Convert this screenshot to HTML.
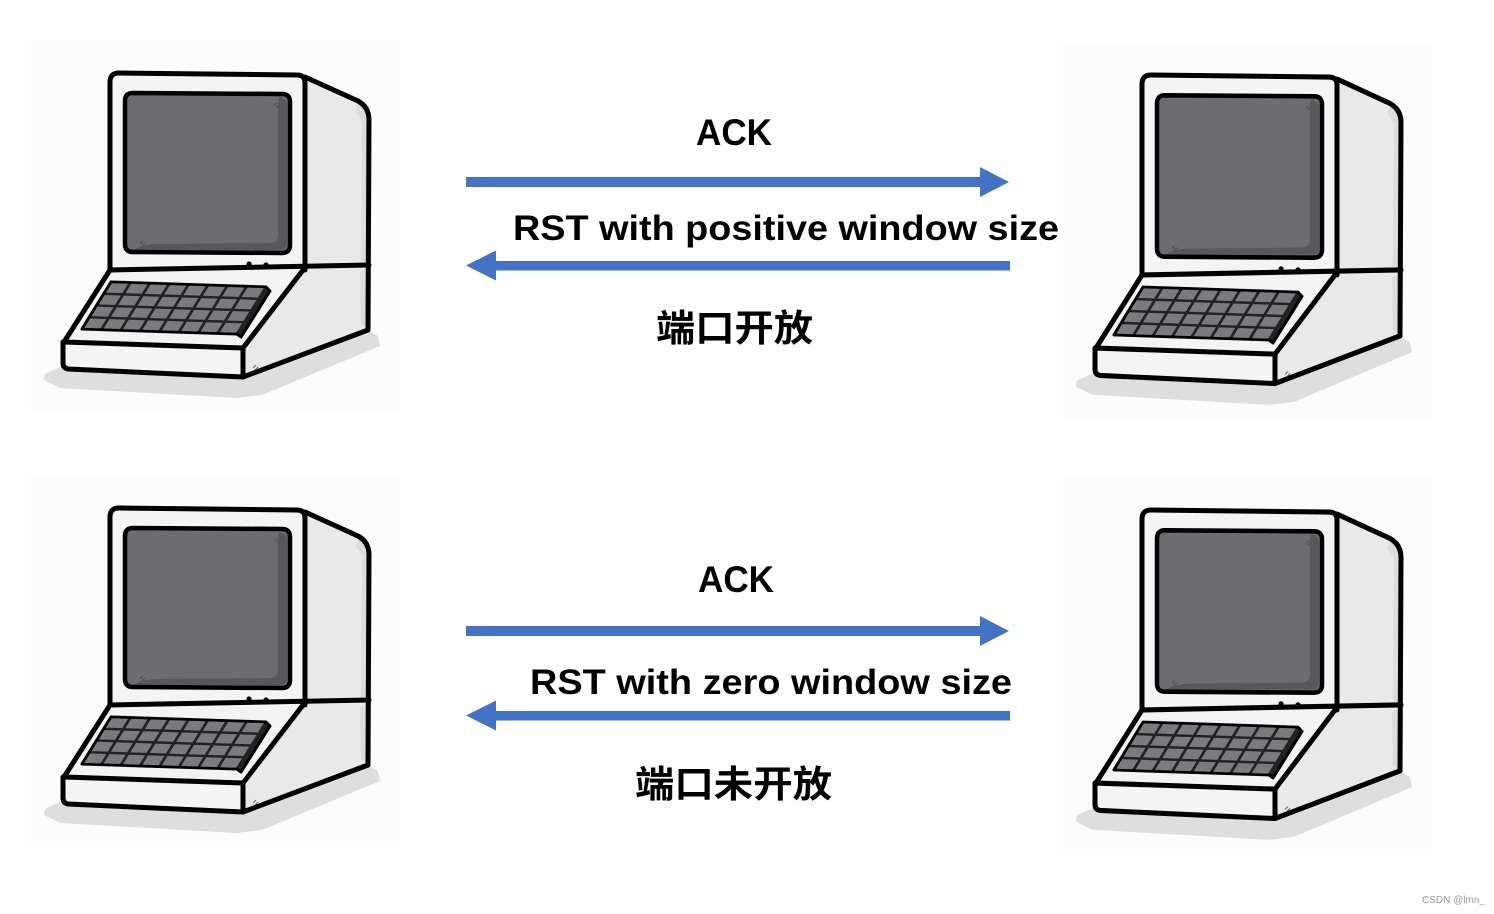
<!DOCTYPE html>
<html>
<head>
<meta charset="utf-8">
<style>
  html,body{margin:0;padding:0;background:#fff;}
  body{width:1494px;height:914px;overflow:hidden;}
  svg{display:block;}
  .lat{font-family:"Liberation Sans","Noto Sans CJK SC",sans-serif;font-weight:700;fill:#000;}
  .cjk{font-family:"Liberation Sans","Noto Sans CJK SC","WenQuanYi Zen Hei",sans-serif;font-weight:700;fill:#000;}
</style>
</head>
<body>
<svg width="1494" height="914" viewBox="0 0 1494 914" xmlns="http://www.w3.org/2000/svg">
  <defs>
    <g id="pc">
      <!-- faint image background -->
      <rect x="30" y="40" width="370" height="372" fill="#fcfcfc"/>
      <!-- shadow -->
      <polygon points="45,374 62,366 243,376 366,330 378,336 380,346 262,395 236,398 60,388 44,380" fill="#dedede"/>
      <!-- side panel -->
      <path d="M303,75 L358,102 Q369,108 369,120 L368,331 L243,377 L243,348 L302,270 L305,270 Z" fill="#e9e9e9"/>
      <path d="M355,112 Q362,116 362,126 L361,262 L368,262 L368,120 Q368,110 358,104 Z" fill="#dcdcdc"/>
      <path d="M360,272 L361,325 L368,328 L368,268 Z" fill="#dcdcdc"/>
      <!-- monitor front -->
      <path d="M110,270 L110,82 Q110,73 119,73 L297,75 Q305,75 305,83 L305,270 Z" fill="#f4f4f4"/>
      <!-- keyboard deck -->
      <polygon points="110,270 302,270 243,348 63,342" fill="#f3f3f3"/>
      <!-- base front -->
      <path d="M64,342 L243,348 L243,377 L68,369 Q63,368 63,363 Z" fill="#f4f4f4"/>

      <!-- outlines -->
      <g fill="none" stroke="#000" stroke-width="5" stroke-linecap="round" stroke-linejoin="round">
        <path d="M110,270 L110,82 Q110,73 119,73 L297,75 Q305,75 305,83 L305,270"/>
        <path d="M305,77 L358,101 Q369,107 369,120 L368,330 L243,377"/>
        <path d="M110,270 L369,265"/>
        <path d="M110,270 L64,342"/>
        <path d="M303,270 L243,348"/>
        <path d="M64,342 L243,348 L243,377 L68,369 Q63,368 63,363 L63,342"/>
      </g>

      <!-- screen -->
      <path d="M133,93 L282,94 Q290,94 290,102 L290,245 Q290,253 282,253 L133,252 Q125,252 125,244 L125,101 Q125,93 133,93 Z" fill="#6d6d71"/>
      <path d="M279,97 Q287,98 287,106 L287,243 Q287,250 280,250 L134,250 Q142,244 160,244 L270,243 Q278,243 278,235 L278,108 Q278,100 279,97 Z" fill="#58585c"/>
      <path d="M133,93 L282,94 Q290,94 290,102 L290,245 Q290,253 282,253 L133,252 Q125,252 125,244 L125,101 Q125,93 133,93 Z" fill="none" stroke="#000" stroke-width="4.5"/>
      <g stroke="#444" stroke-width="0.8">
        <line x1="274" y1="106" x2="277" y2="103"/><line x1="276" y1="108" x2="279" y2="105"/>
        <line x1="140" y1="244" x2="143" y2="241"/><line x1="142" y1="246" x2="145" y2="243"/>
        <line x1="253" y1="368" x2="256" y2="365"/><line x1="255" y1="370" x2="258" y2="367"/>
      </g>
      <!-- dots -->
      <circle cx="249" cy="264" r="2.6" fill="#000"/>
      <circle cx="266" cy="265" r="2.6" fill="#000"/>

      <!-- keyboard -->
      <polygon points="111,282 266,287 270,291 241,337 237,334 82,329" fill="#222" stroke="#000" stroke-width="3" stroke-linejoin="round"/>
      <g transform="matrix(19.375,0.625,-7.25,11.75,111,282)" fill="#7b7b7f">
        <rect x="0.08" y="0.1" width="0.84" height="0.8"/><rect x="1.08" y="0.1" width="0.84" height="0.8"/><rect x="2.08" y="0.1" width="0.84" height="0.8"/><rect x="3.08" y="0.1" width="0.84" height="0.8"/><rect x="4.08" y="0.1" width="0.84" height="0.8"/><rect x="5.08" y="0.1" width="0.84" height="0.8"/><rect x="6.08" y="0.1" width="0.84" height="0.8"/><rect x="7.08" y="0.1" width="0.84" height="0.8"/>
        <rect x="0.08" y="1.1" width="0.84" height="0.8"/><rect x="1.08" y="1.1" width="0.84" height="0.8"/><rect x="2.08" y="1.1" width="0.84" height="0.8"/><rect x="3.08" y="1.1" width="0.84" height="0.8"/><rect x="4.08" y="1.1" width="0.84" height="0.8"/><rect x="5.08" y="1.1" width="0.84" height="0.8"/><rect x="6.08" y="1.1" width="0.84" height="0.8"/><rect x="7.08" y="1.1" width="0.84" height="0.8"/>
        <rect x="0.08" y="2.1" width="0.84" height="0.8"/><rect x="1.08" y="2.1" width="0.84" height="0.8"/><rect x="2.08" y="2.1" width="0.84" height="0.8"/><rect x="3.08" y="2.1" width="0.84" height="0.8"/><rect x="4.08" y="2.1" width="0.84" height="0.8"/><rect x="5.08" y="2.1" width="0.84" height="0.8"/><rect x="6.08" y="2.1" width="0.84" height="0.8"/><rect x="7.08" y="2.1" width="0.84" height="0.8"/>
        <rect x="0.08" y="3.1" width="0.84" height="0.8"/><rect x="1.08" y="3.1" width="0.84" height="0.8"/><rect x="2.08" y="3.1" width="0.84" height="0.8"/><rect x="3.08" y="3.1" width="0.84" height="0.8"/><rect x="4.08" y="3.1" width="0.84" height="0.8"/><rect x="5.08" y="3.1" width="0.84" height="0.8"/><rect x="6.08" y="3.1" width="0.84" height="0.8"/><rect x="7.08" y="3.1" width="0.84" height="0.8"/>
      </g>
    </g>
  </defs>

  <!-- computers -->
  <use href="#pc" transform="translate(0,0)"/>
  <use href="#pc" transform="translate(1142,75) scale(1,1.015) translate(-110,-73)"/>
  <use href="#pc" transform="translate(0,435)"/>
  <use href="#pc" transform="translate(1142,510) scale(1,1.015) translate(-110,-73)"/>

  <!-- arrows -->
  <g fill="#4472C4">
    <rect x="466" y="177" width="516" height="10"/>
    <polygon points="980,167 1009,182 980,197"/>
    <rect x="494" y="261" width="516" height="9.5"/>
    <polygon points="466,265.5 496,250.5 496,280.5"/>

    <rect x="466" y="626" width="516" height="10"/>
    <polygon points="980,616 1009,631 980,646"/>
    <rect x="494" y="711" width="516" height="9.5"/>
    <polygon points="466,715.5 496,700.5 496,730.5"/>
  </g>

  <!-- top labels -->
  <text class="lat" x="696" y="145" font-size="37" textLength="76" lengthAdjust="spacingAndGlyphs">ACK</text>
  <text class="lat" x="513" y="240" font-size="35" textLength="546" lengthAdjust="spacingAndGlyphs">RST with positive window size</text>
  <text class="cjk" x="656" y="341" font-size="37" textLength="157" lengthAdjust="spacingAndGlyphs">端口开放</text>

  <!-- bottom labels -->
  <text class="lat" x="698" y="592" font-size="37" textLength="76" lengthAdjust="spacingAndGlyphs">ACK</text>
  <text class="lat" x="530" y="694" font-size="35" textLength="482" lengthAdjust="spacingAndGlyphs">RST with zero window size</text>
  <text class="cjk" x="635" y="797" font-size="37" textLength="197" lengthAdjust="spacingAndGlyphs">端口未开放</text>

  <!-- watermark -->
  <text x="1422" y="903" font-family="Liberation Sans, sans-serif" font-size="10" fill="#9a9a9a">CSDN @lmn_</text>
</svg>
</body>
</html>
